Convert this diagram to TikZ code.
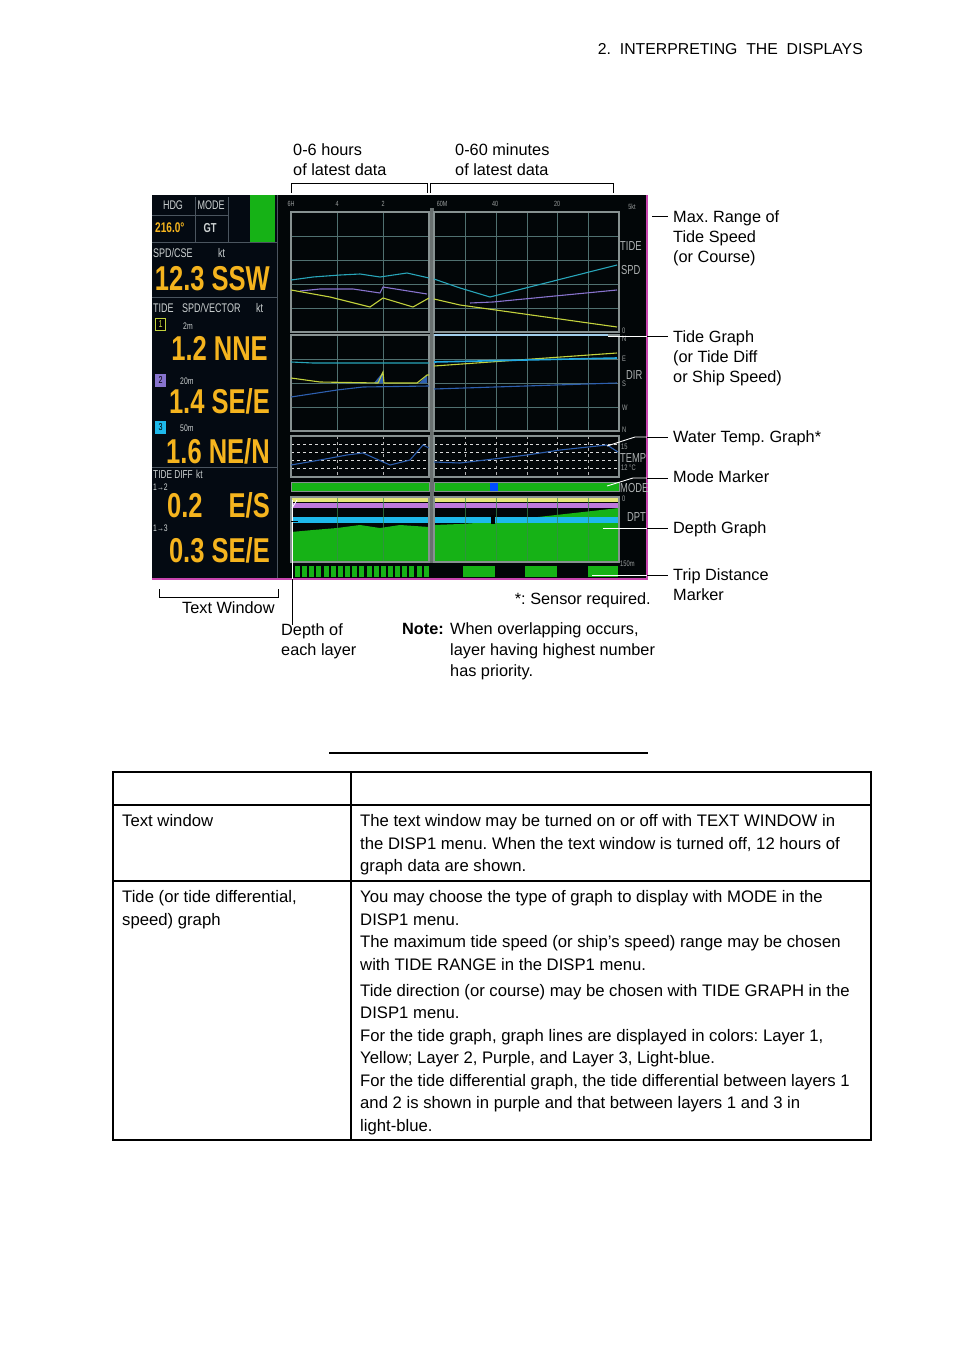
\documentclass[tikz,border=0pt]{standalone}
\usepackage{fontspec}
\setmainfont{Liberation Sans}
\newfontfamily\scrfont[FakeStretch=0.72]{Liberation Sans}
\newfontfamily\bigscr[FakeStretch=0.74]{Liberation Sans}
\usetikzlibrary{calc}
\frenchspacing
\definecolor{scrbg}{RGB}{2,6,8}
\definecolor{twbg}{RGB}{4,10,18}
\definecolor{gridc}{RGB}{80,112,112}
\definecolor{pbord}{RGB}{135,145,145}
\definecolor{sepg}{RGB}{105,112,112}
\definecolor{orng}{RGB}{245,180,30}
\definecolor{cyanl}{RGB}{40,165,185}
\definecolor{purp}{RGB}{135,115,205}
\definecolor{yell}{RGB}{195,210,60}
\definecolor{grn}{RGB}{22,178,22}
\definecolor{magb}{RGB}{200,70,175}
\definecolor{lblu}{RGB}{30,185,235}
\definecolor{dblu}{RGB}{45,95,175}
\definecolor{wtxt}{RGB}{205,210,210}
\definecolor{twline}{RGB}{75,85,95}
\definecolor{stripy}{RGB}{230,230,120}
\definecolor{stripp}{RGB}{190,120,220}
\definecolor{topblu}{RGB}{160,205,235}
\begin{document}
\begin{tikzpicture}[x=1pt,y=-1pt,
  lbl/.style={font=\fontsize{16.3}{20}\selectfont,align=left,inner sep=0pt,anchor=north west},
  tbl/.style={font=\fontsize{16.7}{22.5}\selectfont,align=left,inner sep=0pt,anchor=north west},
  bignum/.style={font=\bigscr\bfseries\fontsize{34.5}{34.5}\selectfont,text=orng,inner sep=0pt,anchor=base east},
  twsm/.style={font=\scrfont\fontsize{12.5}{12.5}\selectfont,text=wtxt,inner sep=0pt,anchor=base west},
  twtiny/.style={font=\scrfont\fontsize{9.5}{9.5}\selectfont,text=wtxt,inner sep=0pt,anchor=base west},
  axl/.style={font=\scrfont\fontsize{7.5}{7.5}\selectfont,text=wtxt!75!black,inner sep=0pt,anchor=base},
  rlab/.style={font=\scrfont\fontsize{13}{13}\selectfont,text=wtxt!85!black,inner sep=0pt,anchor=base west},
  rtiny/.style={font=\scrfont\fontsize{8}{8}\selectfont,text=wtxt!75!black,inner sep=0pt,anchor=base west},
  numbox/.style={minimum width=10pt,minimum height=12pt,inner sep=0pt,line width=1pt,font=\scrfont\fontsize{10}{10}\selectfont},
  lead/.style={line width=0.9pt,black},
  leadw/.style={line width=0.9pt,white},
  pan/.style={draw=pbord,line width=1.1pt},
  gridl/.style={gridc,line width=0.7pt},
  gline/.style={line width=1.1pt},
  tline/.style={black}
]
\useasboundingbox (0,0) rectangle (954,1351);
\fill[white] (0,0) rectangle (954,1351);

% header
\node[font=\fontsize{15.8}{18}\selectfont,anchor=base east,inner sep=0pt] (hdr) at (863,55) {2.\ \ INTERPRETING\ \ THE\ \ DISPLAYS};

% ---------------- screen ----------------
\fill[scrbg] (152,195) rectangle (648,580);
\fill[twbg] (152,195) rectangle (277,578);
\draw[magb,line width=1.6pt] (647,195) -- (647,579) -- (152,579);

% text window
\fill[grn] (250,195) rectangle (275,242);
\draw[twline,line width=0.8pt] (152,215)--(228,215) (195,197)--(195,242) (228,197)--(228,242)
  (152,242)--(277,242) (152,297)--(277,297) (152,467)--(277,467) (277,195)--(277,578);
\node[twsm,anchor=base] (hdg) at (173,210) {HDG};
\node[twsm,anchor=base] (mode) at (211,210) {MODE};
\node[font=\scrfont\bfseries\fontsize{14}{14}\selectfont,text=orng,inner sep=0pt,anchor=base west] (hdgv) at (155,233) {216.0°};
\node[font=\scrfont\bfseries\fontsize{13}{13}\selectfont,text=wtxt,inner sep=0pt,anchor=base] (gt) at (210,233) {GT};
\node[twsm] (spdcse) at (153,257) {SPD/CSE};
\node[twsm] (kt1) at (218,257) {kt};
\node[bignum] (spd) at (270,290) {12.3 SSW};
\node[twsm] (tsv1) at (153,312) {TIDE};
\node[twsm] (tsv2) at (182,312) {SPD/VECTOR};
\node[twsm] (kt2) at (256,312) {kt};
\node[numbox,draw=yell,fill=black,text=yell] (b1) at (160.5,324.5) {1};
\node[twtiny] (d1) at (183,329) {2m};
\node[bignum] (t1) at (268,360) {1.2 NNE};
\node[numbox,draw=purp,fill=purp,text=black] (b2) at (160.5,380) {2};
\node[twtiny] (d2) at (180,384) {20m};
\node[bignum] (t2) at (270,413) {1.4 SE/E};
\node[numbox,draw=lblu,fill=lblu,text=black] (b3) at (160.5,427) {3};
\node[twtiny] (d3) at (180,431) {50m};
\node[bignum] (t3) at (270,463) {1.6 NE/N};
\node[twsm,font=\scrfont\fontsize{11.5}{11.5}\selectfont] (tdf) at (153,478) {TIDE DIFF};
\node[twsm,font=\scrfont\fontsize{11.5}{11.5}\selectfont] (kt3) at (196,478) {kt};
\node[twtiny] (d12) at (153,490) {1→2};
\node[bignum,anchor=base west] (v12) at (167,517) {0.2};
\node[bignum] (v12d) at (270,517) {E/S};
\node[twtiny] (d13) at (153,531) {1→3};
\node[bignum] (v13) at (270,562) {0.3 SE/E};

% axis labels
\node[axl] (a6h) at (291,207) {6H};
\node[axl] (a4) at (337,207) {4};
\node[axl] (a2) at (383,207) {2};
\node[axl] (a60) at (442,207) {60M};
\node[axl] (a40) at (495,207) {40};
\node[axl] (a20) at (557,207) {20};
\node[axl] (a5k) at (632,209) {5kt};

% separator
\fill[sepg] (429.5,208) rectangle (433.5,563);

% ---- tide speed panel ----
\foreach \y in {236,260,284,308} {\draw[gridl] (291,\y)--(429,\y); \draw[gridl] (434,\y)--(619,\y);}
\foreach \x in {337,383} \draw[gridl] (\x,212)--(\x,332);
\foreach \x in {465,496,527,557,588} \draw[gridl] (\x,212)--(\x,332);
\draw[pan] (291,212) rectangle (429,332);
\draw[pan] (434,212) rectangle (619,332);
\draw[gline,cyanl] (291,280)--(313,277)--(340,275)--(360,274)--(380,277)--(407,273)--(429,278);
\draw[gline,purp] (300,291)--(320,289)--(353,289)--(380,293)--(383,287)--(427,294);
\draw[gline,yell] (291,290)--(330,297)--(370,307)--(383,298)--(413,307)--(429,298);
\draw[gline,cyanl] (434,279)--(460,288)--(490,297)--(617,265);
\draw[gline,purp] (470,303)--(493,302)--(617,290);
\draw[gline,yell] (434,299)--(460,305)--(617,327);

% ---- direction panel ----
\foreach \y in {359,383,407} {\draw[gridl] (291,\y)--(429,\y); \draw[gridl] (434,\y)--(619,\y);}
\foreach \x in {337,383} \draw[gridl] (\x,335)--(\x,431);
\foreach \x in {465,496,527,557,588} \draw[gridl] (\x,335)--(\x,431);
\draw[pan] (291,335) rectangle (429,431);
\draw[pan] (434,335) rectangle (619,431);
\draw[topblu,line width=1.4pt] (434,335)--(608,335);
\draw[gline,cyanl] (291,362)--(313,363)--(429,363);
\fill[dblu] (374,383)--(383,372)--(383,383)--cycle;
\fill[dblu] (419,383)--(427,375)--(427,383)--cycle;
\draw[gline,yell] (291,378)--(320,382)--(378,383)--(383,372)--(384,383)--(417,383)--(427,375)--(429,375);
\draw[gline,dblu] (291,397)--(337,390)--(363,387)--(429,386);
\draw[gline,yell] (434,366)--(617,353);
\draw[line width=1.6pt,lblu!80!dblu] (434,362)--(617,358);
\draw[gline,dblu] (434,389)--(617,383);

% ---- temperature panel ----
\foreach \y in {444,452,460,468} {\draw[white!85!black,dashed,line width=0.6pt] (291,\y)--(429,\y); \draw[white!85!black,dashed,line width=0.6pt] (434,\y)--(619,\y);}
\foreach \x in {337,383,465,496,527,557,588} \draw[white!70!black,dashed,line width=0.6pt] (\x,436)--(\x,477);
\draw[pan] (291,436) rectangle (429,477);
\draw[pan] (434,436) rectangle (619,477);
\draw[gline,dblu] (291,465)--(320,460)--(347,455)--(363,453)--(390,465)--(410,460)--(423,445)--(429,448);
\draw[gline,dblu] (434,462)--(460,463)--(527,455)--(560,450)--(607,445)--(618,452);

% ---- mode bar ----
\fill[grn] (291,482) rectangle (429,491);
\fill[grn] (434,482) rectangle (619,491);
\draw[pbord,line width=0.9pt] (291,482) rectangle (429,491);
\draw[pbord,line width=0.9pt] (434,482) rectangle (619,491);
\fill[blue!70!cyan] (490,483) rectangle (498,491);

% ---- depth panel ----
\fill[stripy] (291,498) rectangle (429,502);
\fill[stripy] (434,498) rectangle (619,502);
\fill[stripp] (291,503) rectangle (429,508);
\fill[stripp] (434,503) rectangle (619,508);
\fill[grn] (291,532)--(313,530)--(337,528)--(360,525)--(380,528)--(400,525)--(429,527)--(429,562)--(291,562)--cycle;
\fill[grn] (434,525)--(460,524)--(493,522)--(619,508)--(619,562)--(434,562)--cycle;
\fill[lblu] (291,517) rectangle (429,523);
\fill[lblu] (434,517) rectangle (619,523);
\fill[black] (491,515) rectangle (495,524);
\foreach \x in {337,383,465,496,527,557,588} \draw[gridc!60!grn,line width=0.6pt,opacity=0.7] (\x,497)--(\x,562);
\draw[pan] (291,497) rectangle (429,562);
\draw[pan] (434,497) rectangle (619,562);

% ---- trip marker ----
\foreach \i in {0,...,18} \fill[grn] ({295+\i*7.15},566) rectangle ({300+\i*7.15},577);
\fill[grn] (463,566) rectangle (495,577);
\fill[grn] (525,566) rectangle (557,577);
\fill[grn] (588,566) rectangle (618,577);

% right scale labels
\node[rtiny] (r0a) at (622,333) {0};
\node[rlab] (rtide) at (620,250) {TIDE};
\node[rlab] (rspd) at (621,274) {SPD};
\node[rtiny] (rn1) at (622,341) {N};
\node[rtiny] (re) at (622,361) {E};
\node[rlab] (rdir) at (626,379) {DIR};
\node[rtiny] (rs) at (622,386) {S};
\node[rtiny] (rw) at (622,410) {W};
\node[rtiny] (rn2) at (622,432) {N};
\node[rtiny] (r15) at (621,449) {15};
\node[rlab] (rtemp) at (620,462) {TEMP};
\node[rtiny] (r12) at (621,470) {12 °C};
\node[rlab] (rmode) at (620,492) {MODE};
\node[rtiny] (r0b) at (622,501) {0};
\node[rlab] (rdpt) at (627,521) {DPT};
\node[rtiny] (r150) at (620,566) {150m};

% ---------------- labels ----------------
\node[lbl] (h6) at (293,141) {\strut 0-6 hours\\of latest data};
\node[lbl] (m60) at (455,141) {\strut 0-60 minutes\\of latest data};
\node[lbl] (maxr) at (673,208) {\strut Max. Range of\\Tide Speed\\(or Course)};
\node[lbl] (tg) at (673,328) {\strut Tide Graph\\(or Tide Diff\\or Ship Speed)};
\node[lbl] (wt) at (673,428) {\strut Water Temp. Graph*};
\node[lbl] (mm) at (673,468) {\strut Mode Marker};
\node[lbl] (dg) at (673,519) {\strut Depth Graph};
\node[lbl] (td) at (673,566) {\strut Trip Distance\\Marker};
\node[lbl] (tw) at (182,599) {\strut Text Window};
\node[lbl,anchor=north east] (sr) at (651,590) {\strut *: Sensor required.};
\node[lbl] (dl) at (281,621) {\strut Depth of\\each layer};
\node[lbl,font=\fontsize{16.3}{20}\selectfont\bfseries] (nt) at (402,620) {\strut Note:};
\node[lbl,font=\fontsize{16.3}{21}\selectfont] (ntx) at (450,619.3) {\strut When overlapping occurs,\\layer having highest number\\has priority.};

% brackets
\draw[lead] (291,193)--(291,183)--(427,183)--(427,193);
\draw[lead] (430,193)--(430,183)--(613,183)--(613,193);
\draw[lead] (159,589)--(159,597)--(278,597)--(278,589);

% leader lines
\coordinate (mrA) at (652,216);
\draw[lead,shorten >=5pt] (mrA) -- (mrA -| maxr.west);
\coordinate (tgA) at (608,336); \coordinate (tgB) at (647,336);
\draw[leadw] (tgA)--(tgB);
\draw[lead,shorten >=5pt] (tgB) -- (tgB -| tg.west);
\coordinate (wtA) at (607,446); \coordinate (wtK) at (635,437); \coordinate (wtB) at (647,437);
\draw[leadw] (wtA)--(wtK)--(wtB);
\draw[lead,shorten >=5pt] (wtB) -- (wtB -| wt.west);
\coordinate (mmA) at (607,486); \coordinate (mmK) at (633,478); \coordinate (mmB) at (647,478);
\draw[leadw] (mmA)--(mmK)--(mmB);
\draw[lead,shorten >=5pt] (mmB) -- (mmB -| mm.west);
\coordinate (dgA) at (603,528); \coordinate (dgB) at (647,528);
\draw[leadw] (dgA)--(dgB);
\draw[lead,shorten >=5pt] (dgB) -- (dgB -| dg.west);
\coordinate (tdA) at (592,575); \coordinate (tdB) at (647,575);
\draw[leadw] (tdA)--(tdB);
\draw[lead,shorten >=5pt] (tdB) -- (tdB -| td.west);
\coordinate (dlA) at (292,500); \coordinate (dlB) at (292,579); \coordinate (dlS) at (297,500);
\draw[leadw] (dlA)--(dlB);
\draw[leadw] (292,508)--(dlS);
\draw[lead] (291,521)--(298,521);
\draw[lead] (dlB) -- ([yshift=-4pt]dl.north west -| dlB);

% ---------------- table ----------------
\draw[tline,line width=1.2pt] (329,753)--(648,753);
\draw[tline,line width=1.3pt] (113,805)--(871,805);
\draw[tline,line width=2pt] (113,881)--(871,881);
\draw[tline,line width=1.3pt] (351,772)--(351,1140);
\draw[tline,line width=2.6pt] (113,772) rectangle (871,1140);

\node[tbl] (c11) at (122,810.75) {\strut Text window};
\node[tbl] (c12) at (360,810.75) {\strut The text window may be turned on or off with TEXT WINDOW in\\the DISP1 menu. When the text window is turned off, 12 hours of\\graph data are shown.};
\node[tbl] (c21) at (122,886.75) {\strut Tide (or tide differential,\\speed) graph};
\node[tbl] (c22) at (360,886.75) {\strut You may choose the type of graph to display with MODE in the\\DISP1 menu.\\The maximum tide speed (or ship’s speed) range may be chosen\\with TIDE RANGE in the DISP1 menu.\\[3.5pt]Tide direction (or course) may be chosen with TIDE GRAPH in the\\DISP1 menu.\\For the tide graph, graph lines are displayed in colors: Layer 1,\\Yellow; Layer 2, Purple, and Layer 3, Light-blue.\\For the tide differential graph, the tide differential between layers 1\\and 2 is shown in purple and that between layers 1 and 3 in\\light-blue.};
\end{tikzpicture}
\end{document}
